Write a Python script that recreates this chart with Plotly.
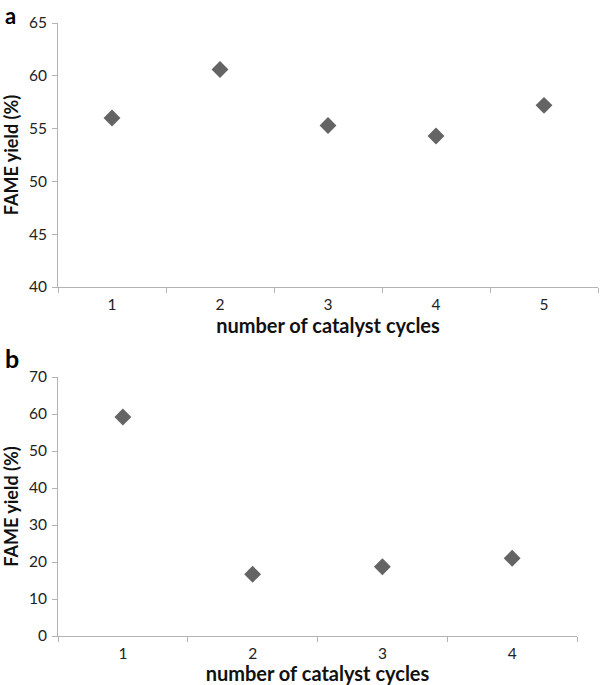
import plotly.graph_objects as go

# Panel a
cycles_a = [1, 2, 3, 4, 5]
yield_a = [56.0, 60.6, 55.3, 54.3, 57.2]
# Panel b
cycles_b = [1, 2, 3, 4]
yield_b = [59.2, 16.7, 18.7, 21.0]

x_title = "number of catalyst cycles"
y_title = "FAME yield (%)"

W, H = 600, 685
FONT = "Lato, 'Open Sans', sans-serif"
AX = "#b3b3b3"
MK = "#646464"

def px_x(a, b):
    return [a / W, b / W]

def px_y(top, bottom):
    return [1 - bottom / H, 1 - top / H]

def py(y):
    return 1 - y / H

def px(x):
    return x / W

fig = go.Figure()
fig.add_trace(go.Scatter(x=cycles_a, y=yield_a, mode="markers", xaxis="x", yaxis="y",
                         marker=dict(symbol="diamond", size=13, color=MK), showlegend=False))
fig.add_trace(go.Scatter(x=cycles_b, y=yield_b, mode="markers", xaxis="x2", yaxis="y2",
                         marker=dict(symbol="diamond", size=13, color=MK), showlegend=False))

def xax(n, domain, anchor):
    return dict(domain=domain, anchor=anchor, range=[0.5, n + 0.5], automargin=False,
                tickvals=list(range(1, n + 1)), ticks="", showgrid=False, zeroline=False,
                showline=True, linecolor=AX, linewidth=1, ticklabelstandoff=3,
                minor=dict(tick0=0.5, dtick=1, ticks="outside", ticklen=5, tickcolor=AX, showgrid=False),
                tickfont=dict(family=FONT, size=15.5, color="#222"),
                title=dict(text="<b>" + x_title + "</b>", font=dict(family=FONT, size=20, color="#111"), standoff=1))

def yax(rng, dtick, domain, anchor):
    return dict(domain=domain, anchor=anchor, range=rng, dtick=dtick, tick0=rng[0], automargin=False,
                ticks="outside", ticklen=5, tickcolor=AX, showgrid=False, zeroline=False,
                showline=True, linecolor=AX, linewidth=1, ticklabelstandoff=2,
                tickfont=dict(family=FONT, size=15.5, color="#222"),
                title=dict(text="<b>" + y_title + "</b>", font=dict(family=FONT, size=18, color="#111"), standoff=9))

fig.update_layout(
    width=W, height=H, margin=dict(l=0, r=0, t=0, b=0),
    plot_bgcolor="white", paper_bgcolor="white",
    xaxis=xax(5, px_x(58, 598), "y"),
    yaxis=yax([40, 65], 5, px_y(23, 287), "x"),
    xaxis2=xax(4, px_x(58, 577), "y2"),
    yaxis2=yax([0, 70], 10, px_y(377, 636), "x2"),
    annotations=[
        dict(text="<b>a</b>", x=px(3), y=1, xref="paper", yref="paper", xanchor="left", yanchor="top",
             showarrow=False, font=dict(family=FONT, size=22, color="#000")),
        dict(text="<b>b</b>", x=px(3), y=py(358), xref="paper", yref="paper", xanchor="left", yanchor="middle",
             showarrow=False, font=dict(family=FONT, size=25, color="#000")),
    ],
)

# remove the default 8px body margin so the figure sits at the window's top-left corner
fig.write_html("out.html", config={"displayModeBar": False},
               post_script="document.body.style.margin='0';")
